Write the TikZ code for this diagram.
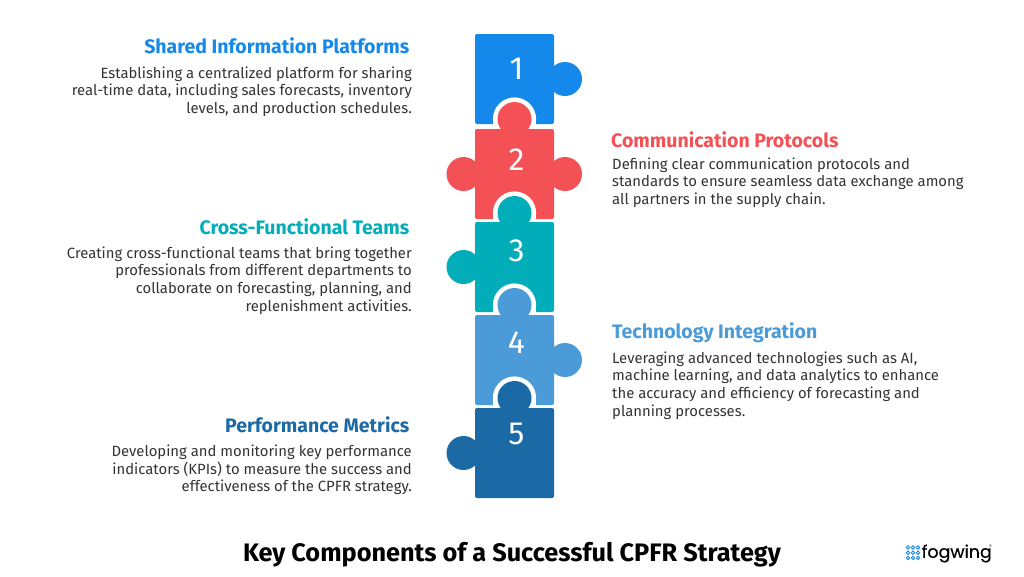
\documentclass[tikz,border=0pt]{standalone}
\usepackage{fontspec}
\setmainfont{Fira Sans}
\newfontfamily\logofont[FakeBold=0.4]{Poppins}
\definecolor{pieceblue}{RGB}{21,137,235}
\definecolor{piecered}{RGB}{244,81,86}
\definecolor{piecegreen}{RGB}{0,173,185}
\definecolor{piecesky}{RGB}{74,155,216}
\definecolor{piecenavy}{RGB}{27,106,165}
\definecolor{bodygrey}{RGB}{51,51,51}
\tikzset{
  head/.style={font=\fontsize{19.5}{22}\selectfont\bfseries,inner sep=0pt},
  bodyleft/.style={font=\fontsize{14.85}{17.6}\selectfont,text=bodygrey,align=right,anchor=north east,inner sep=0pt},
  bodyright/.style={font=\fontsize{14.85}{17.6}\selectfont,text=bodygrey,align=left,anchor=north west,inner sep=0pt},
  num/.style={font=\fontsize{32}{36}\selectfont,text=white},
}
\begin{document}
\begin{tikzpicture}[x=1pt,y=1pt,yscale=-1,xscale=1]
\useasboundingbox (0,0) rectangle (1024,576);

%Shape: Piece 1
\fill [pieceblue,rounded corners=2pt] (475,34) rectangle (554,124);
\fill [pieceblue] (565,79) circle (17);
\fill [pieceblue] (550,72) rectangle (558,86);
%Shape: Piece 2
\fill [white] (514.5,119) circle (21.6);
\fill [white] (492.9,119) rectangle (536.1,129);
\fill [piecered,rounded corners=2pt] (475,129) rectangle (554,219);
\fill [piecered] (514.5,119) circle (17);
\fill [piecered] (507,125) rectangle (522,132);
\fill [piecered] (565,174) circle (17);
\fill [piecered] (550,167) rectangle (558,181);
\fill [piecered] (463.5,174) circle (17);
\fill [piecered] (471,167) rectangle (479,181);
%Shape: Piece 3
\fill [white] (514.5,213) circle (21.6);
\fill [white] (492.9,213) rectangle (536.1,222);
\fill [piecegreen,rounded corners=2pt] (475,222) rectangle (554,312);
\fill [piecegreen] (514.5,213) circle (17);
\fill [piecegreen] (507,219) rectangle (522,225);
\fill [piecegreen] (463.5,267) circle (17);
\fill [piecegreen] (471,260) rectangle (479,274);
%Shape: Piece 4
\fill [white] (514.5,305) circle (21.6);
\fill [white] (492.9,305) rectangle (536.1,315);
\fill [piecesky,rounded corners=2pt] (475,315) rectangle (554,405);
\fill [piecesky] (514.5,305) circle (17);
\fill [piecesky] (507,311) rectangle (522,318);
\fill [piecesky] (565,360) circle (17);
\fill [piecesky] (550,353) rectangle (558,367);
%Shape: Piece 5
\fill [white] (514.5,398) circle (21.6);
\fill [white] (492.9,398) rectangle (536.1,408);
\fill [piecenavy,rounded corners=2pt] (475,408) rectangle (554,498);
\fill [piecenavy] (514.5,398) circle (17);
\fill [piecenavy] (507,404) rectangle (522,411);
\fill [piecenavy] (463.5,453) circle (17);
\fill [piecenavy] (471,446) rectangle (479,460);

% Text Node
\node [num] (numa) at (516.5,69) {1};
\node [num] (numb) at (516.5,160) {2};
\node [num] (numc) at (516.5,251) {3};
\node [num] (numd) at (516.5,343) {4};
\node [num] (nume) at (516.5,434) {5};

% Text Node
\node [head,text=pieceblue,anchor=east] (heada) at (409.5,46) {Shared Information Platforms};
\node [bodyleft] (bodya) at (412,66.5) {Establishing a centralized platform for sharing\\real-time data, including sales forecasts, inventory\\levels, and production schedules.};
% Text Node
\node [head,text=piecered,anchor=west] (headb) at (611,140) {Communication Protocols};
\node [bodyright] (bodyb) at (612,157.5) {Defining clear communication protocols and\\standards to ensure seamless data exchange among\\all partners in the supply chain.};
% Text Node
\node [head,text=piecegreen,anchor=east] (headc) at (409.5,227) {Cross-Functional Teams};
\node [bodyleft] (bodyc) at (412,246.5) {Creating cross-functional teams that bring together\\professionals from different departments to\\collaborate on forecasting, planning, and\\replenishment activities.};
% Text Node
\node [head,text=piecesky,anchor=west] (headd) at (612,333) {Technology Integration};
\node [bodyright] (bodyd) at (612,351.5) {Leveraging advanced technologies such as AI,\\machine learning, and data analytics to enhance\\the accuracy and efficiency of forecasting and\\planning processes.};
% Text Node
\node [head,text=piecenavy,anchor=east] (heade) at (409.5,425) {Performance Metrics};
\node [bodyleft] (bodye) at (412,445) {Developing and monitoring key performance\\indicators (KPIs) to measure the success and\\effectiveness of the CPFR strategy.};

% Text Node
\node [font=\fontsize{25.3}{28}\selectfont\bfseries,text=black] (title) at (512,554.5) {Key Components of a Successful CPFR Strategy};

%Shape: Logo dots
\foreach \i in {0,1,2}
  \foreach \j in {0,1,2}
    \draw [pieceblue,line width=0.9pt] (908+\i*5,547.5+\j*5.2) circle (1.7);
% Text Node
\node [font=\logofont\fontsize{17.4}{20}\selectfont,text=black,anchor=west,inner sep=0pt] (logo) at (921.5,553.5) {fogwing};
\node [font=\fontsize{5}{6}\selectfont,text=black!70,inner sep=0pt] (reg) at (990.5,546.5) {®};
\end{tikzpicture}
\end{document}
